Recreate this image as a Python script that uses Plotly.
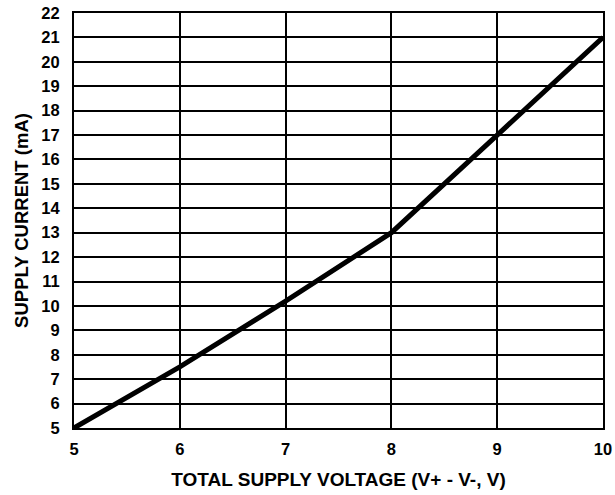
import plotly.graph_objects as go

# Supply current versus total supply voltage
voltage = [5, 6, 7, 8, 9, 10]
current_ma = [5, 7.5, 10.2, 13, 17, 21]

x_ticks = [5, 6, 7, 8, 9, 10]
y_ticks = list(range(5, 23))

font_family = "Liberation Sans, Arial, sans-serif"

fig = go.Figure()
fig.add_trace(go.Scatter(
    x=voltage, y=current_ma, mode="lines",
    line=dict(color="black", width=5),
    showlegend=False, hoverinfo="skip",
))

axis_common = dict(
    showgrid=True, gridcolor="black", gridwidth=2,
    showline=True, linecolor="black", linewidth=2, mirror=True,
    zeroline=False, ticks="",
    tickfont=dict(family=font_family, size=16.5, color="black", weight="bold"),
)

fig.update_xaxes(
    range=[5, 10], tickvals=x_ticks, ticklabelstandoff=5,
    title=dict(text="TOTAL SUPPLY VOLTAGE (V+ - V-, V)",
               font=dict(family=font_family, size=19, color="black", weight="bold"),
               standoff=16),
    **axis_common,
)
fig.update_yaxes(
    range=[5, 22], tickvals=y_ticks, ticklabelstandoff=9,
    title=dict(text="SUPPLY CURRENT (mA)",
               font=dict(family=font_family, size=18.5, color="black", weight="bold"),
               standoff=8),
    **axis_common,
)

fig.update_layout(
    width=615, height=495,
    margin=dict(l=74, r=12, t=13, b=67, autoexpand=False),
    paper_bgcolor="white", plot_bgcolor="white",
)

fig.write_html("out.html")
